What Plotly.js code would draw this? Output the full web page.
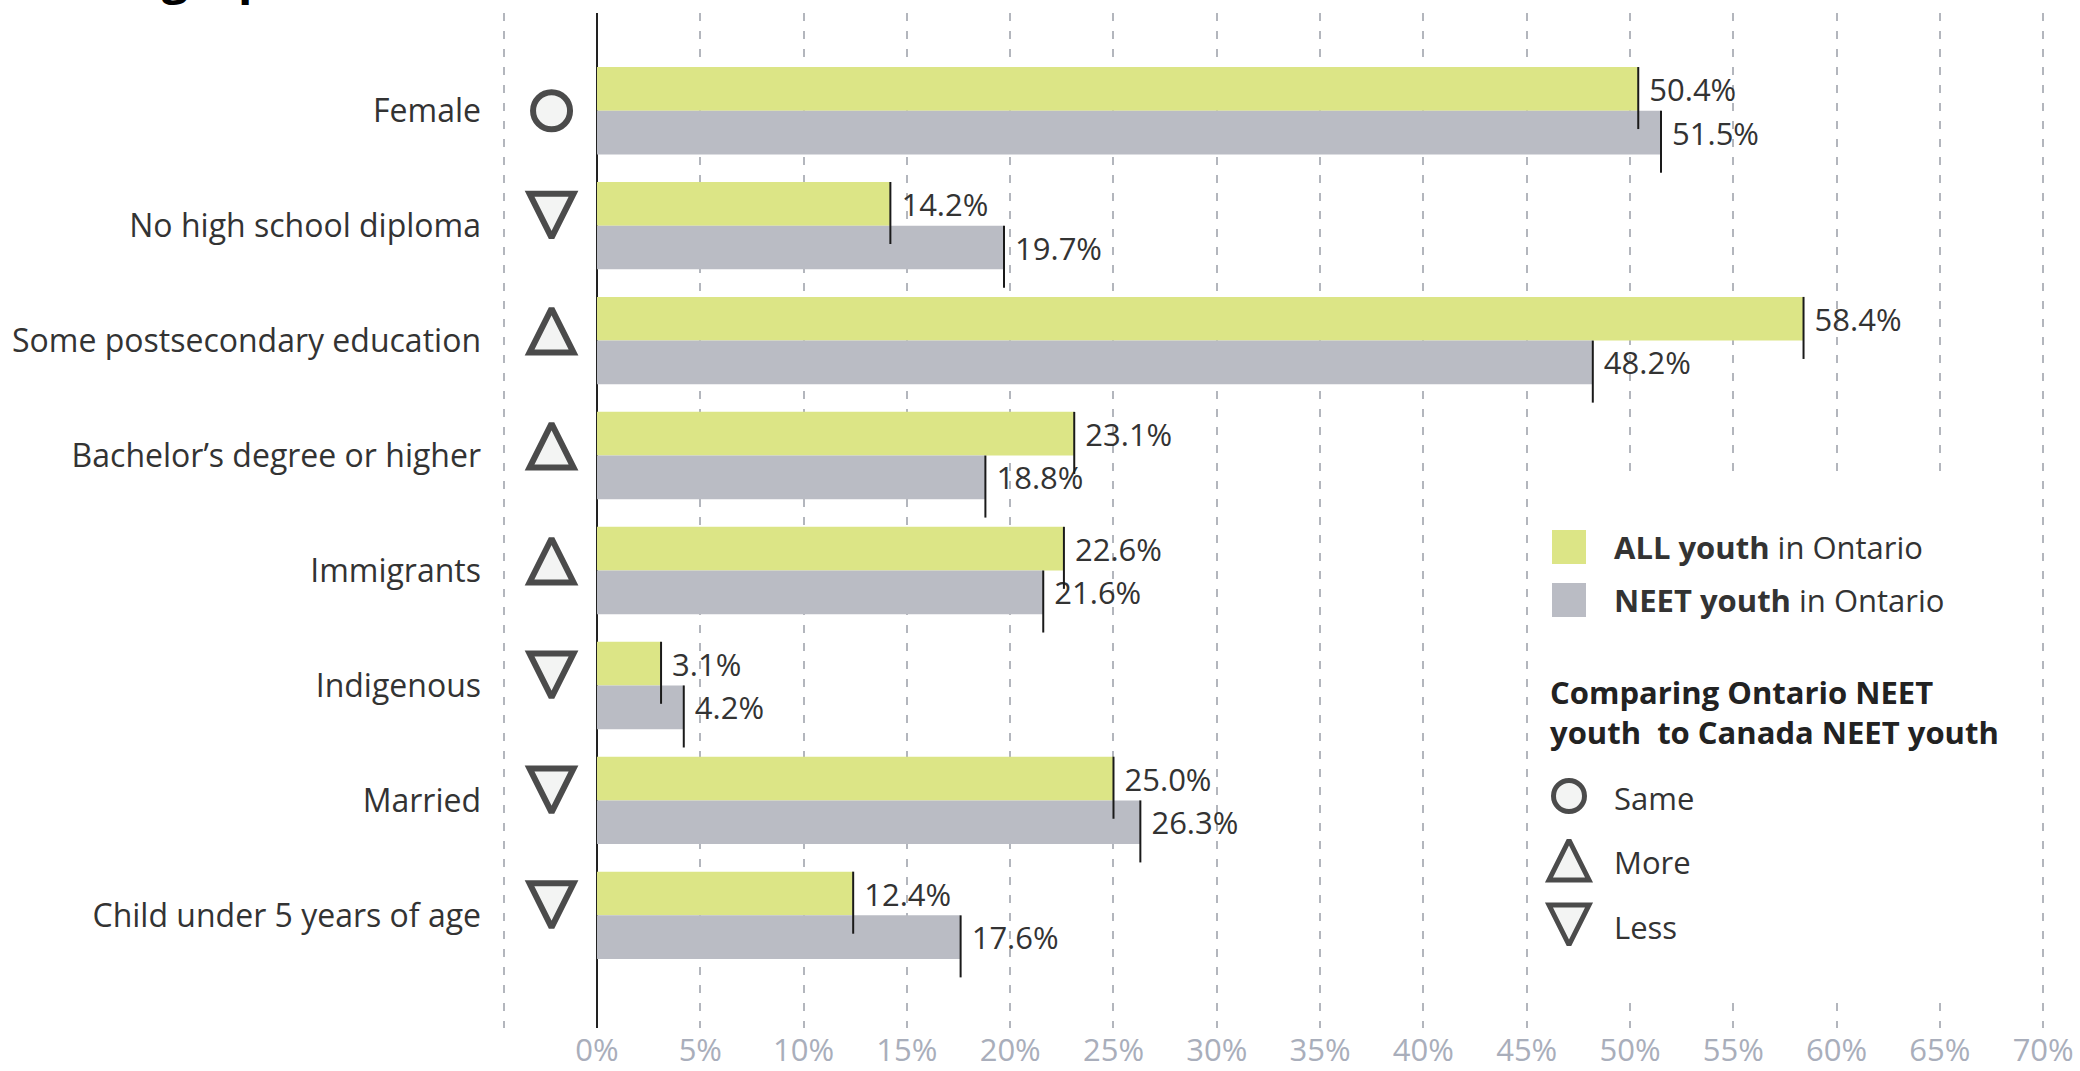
<!DOCTYPE html>
<html>
<head>
<meta charset="utf-8">
<script src="https://cdn.plot.ly/plotly-3.0.1.min.js"></script>
<style>html,body{margin:0;padding:0;background:#fff;}</style>
</head>
<body>
<div id="chart" style="width:2080px;height:1071px;"></div>
<script>
// ---------------- data ----------------
const categories = [
  "Female",
  "No high school diploma",
  "Some postsecondary education",
  "Bachelor\u2019s degree or higher",
  "Immigrants",
  "Indigenous",
  "Married",
  "Child under 5 years of age"
];
const allYouth  = [50.4, 14.2, 58.4, 23.1, 22.6, 3.1, 25.0, 12.4];
const neetYouth = [51.5, 19.7, 48.2, 18.8, 21.6, 4.2, 26.3, 17.6];
const comparison = ["Same", "Less", "More", "More", "More", "Less", "Less", "Less"];
const xTickValues = [-4.5, 0, 5, 10, 15, 20, 25, 30, 35, 40, 45, 50, 55, 60, 65, 70];
const xTickLabels = ["", "0%", "5%", "10%", "15%", "20%", "25%", "30%", "35%", "40%", "45%", "50%", "55%", "60%", "65%", "70%"];
const seriesNames = ["<b>ALL youth</b> in Ontario", "<b>NEET youth</b> in Ontario"];
const legendTitle = "<b>Comparing Ontario NEET<br>youth\u00a0 to Canada NEET youth</b>";
const comparisonKeys = ["Same", "More", "Less"];
const titleText = "<b>Demographic characteristics</b>";

// ---------------- styling / layout constants ----------------
const W = 2080, H = 1071;
const M = {l: 488, r: 30, t: 13, b: 43};
const plotH = H - M.t - M.b;
const yRange = [7.98, -0.85];
const pxPerY = plotH / (yRange[0] - yRange[1]);
const GREEN = "#dce586", GREY = "#babcc4";
const FONT = "Open Sans, Noto Sans, sans-serif";
const FS = 31;
const BAR_GAP = 0.24;
const barT = (1 - BAR_GAP) / 2;      // thickness of one bar in y units
const markX = -2.2;                   // x position of comparison markers
const triSize = 44, circSize = 37;

const idx = categories.map((_, i) => i);
const fmt = v => "\u00a0" + v.toFixed(1) + "%";

// symbol helpers (arrow symbols are anchored at their tip)
function symbolFor(c) { return c === "Same" ? "circle" : (c === "More" ? "arrow-up" : "arrow-down"); }
function markYOffsetPx(c, size, lift) {
  if (c === "Same") return 0;
  if (c === "More") return -lift - size / 2;
  return -lift + size / 2;
}

// tick lines at bar ends
const lineX = [], lineY = [];
idx.forEach(i => {
  lineX.push(allYouth[i], allYouth[i], null);
  lineY.push(i - barT, i - barT + barT * 1.42, null);
  lineX.push(neetYouth[i], neetYouth[i], null);
  lineY.push(i, i + barT * 1.42, null);
});

const traces = [
  {
    type: "bar", orientation: "h", name: seriesNames[0],
    x: allYouth, y: idx,
    marker: {color: GREEN, line: {width: 0}},
    text: allYouth.map(fmt), textposition: "outside", cliponaxis: false,
    constraintext: "none",
    textfont: {family: FONT, size: FS, color: "#333333"},
    hoverinfo: "skip", showlegend: false
  },
  {
    type: "bar", orientation: "h", name: seriesNames[1],
    x: neetYouth, y: idx,
    marker: {color: GREY, line: {width: 0}},
    text: neetYouth.map(fmt), textposition: "outside", cliponaxis: false,
    constraintext: "none",
    textfont: {family: FONT, size: FS, color: "#333333"},
    hoverinfo: "skip", showlegend: false
  },
  {
    type: "scatter", mode: "lines", x: lineX, y: lineY,
    line: {color: "#1a1a1a", width: 2}, hoverinfo: "skip", showlegend: false,
    cliponaxis: false
  },
  {
    type: "scatter", mode: "markers",
    x: idx.map(() => markX),
    y: idx.map(i => i + markYOffsetPx(comparison[i], comparison[i] === "Same" ? circSize : triSize, 10) / pxPerY),
    marker: {
      symbol: comparison.map(symbolFor),
      size: comparison.map(c => c === "Same" ? circSize : triSize),
      color: "#eef0ef",
      line: {color: "#000000", width: 6}
    },
    hoverinfo: "skip", showlegend: false, cliponaxis: false
  }
];

// ---- custom legend (drawn on an overlay axis pair measured in pixels) ----
const LG = {x: 1569, textX: 1612, sq: [547, 600], cmp: [796, 860, 925], titleY: 712, titleX: 1548};
const lgSizes = [31, 40, 40];
traces.push({
  type: "scatter", mode: "markers", xaxis: "x2", yaxis: "y2",
  x: [LG.x, LG.x], y: LG.sq,
  marker: {symbol: "square", size: 34, color: [GREEN, GREY], line: {width: 0}},
  hoverinfo: "skip", showlegend: false, cliponaxis: false
});
traces.push({
  type: "scatter", mode: "markers", xaxis: "x2", yaxis: "y2",
  x: comparisonKeys.map(() => LG.x),
  y: comparisonKeys.map((c, k) => LG.cmp[k] + markYOffsetPx(c, lgSizes[k], 0)),
  marker: {
    symbol: comparisonKeys.map(symbolFor), size: lgSizes,
    color: "#eef0ef", line: {color: "#000000", width: 5}
  },
  hoverinfo: "skip", showlegend: false, cliponaxis: false
});

const annotations = [];
seriesNames.forEach((n, k) => annotations.push({
  xref: "x2", yref: "y2", x: LG.textX, y: LG.sq[k], xanchor: "left", yanchor: "middle",
  text: n, showarrow: false, font: {family: FONT, size: FS, color: "#333333"}
}));
annotations.push({
  xref: "x2", yref: "y2", x: LG.titleX, y: LG.titleY, xanchor: "left", yanchor: "middle",
  align: "left", text: legendTitle, showarrow: false, font: {family: FONT, size: FS, color: "#222222"}
});
comparisonKeys.forEach((c, k) => annotations.push({
  xref: "x2", yref: "y2", x: LG.textX, y: LG.cmp[k] + 2, xanchor: "left", yanchor: "middle",
  text: c, showarrow: false, font: {family: FONT, size: FS, color: "#333333"}
}));
// cropped title at the very top
annotations.push({
  xref: "paper", yref: "paper", x: (22 - M.l) / (W - M.l - M.r), y: 1 + (M.t - 10.5) / plotH,
  xanchor: "left", yanchor: "bottom", text: titleText, showarrow: false,
  font: {family: FONT, size: 47, color: "#000000"}
});

const layout = {
  width: W, height: H,
  margin: M,
  paper_bgcolor: "#ffffff", plot_bgcolor: "rgba(0,0,0,0)",
  font: {family: FONT, size: FS, color: "#333333"},
  barmode: "group", bargap: BAR_GAP, bargroupgap: 0,
  showlegend: false,
  xaxis: {
    range: [-5.276, 70.33], fixedrange: true,
    tickvals: xTickValues, ticktext: xTickLabels,
    ticks: "", ticklabelstandoff: 1,
    tickfont: {family: FONT, size: FS, color: "#a9aebb"},
    showgrid: true, gridcolor: "#b3b6bd", gridwidth: 2, griddash: "8px,10px",
    zeroline: true, zerolinecolor: "#222222", zerolinewidth: 2,
    showline: false
  },
  yaxis: {
    range: yRange, fixedrange: true,
    tickvals: idx, ticktext: categories,
    ticks: "", ticklabelstandoff: 6,
    tickfont: {family: FONT, size: 32, color: "#333333"},
    showgrid: false, zeroline: false, showline: false
  },
  xaxis2: {overlaying: "x", range: [M.l, W - M.r], visible: false, fixedrange: true},
  yaxis2: {overlaying: "y", range: [H - M.b, M.t], visible: false, fixedrange: true},
  shapes: [{
    type: "rect", xref: "x", yref: "y", layer: "between",
    x0: 46.2, x1: 69.5, y0: 3.2, y1: 7.74,
    fillcolor: "#ffffff", line: {width: 0}
  }],
  annotations: annotations
};

Plotly.newPlot("chart", traces, layout, {staticPlot: true, displayModeBar: false});
</script>
</body>
</html>
